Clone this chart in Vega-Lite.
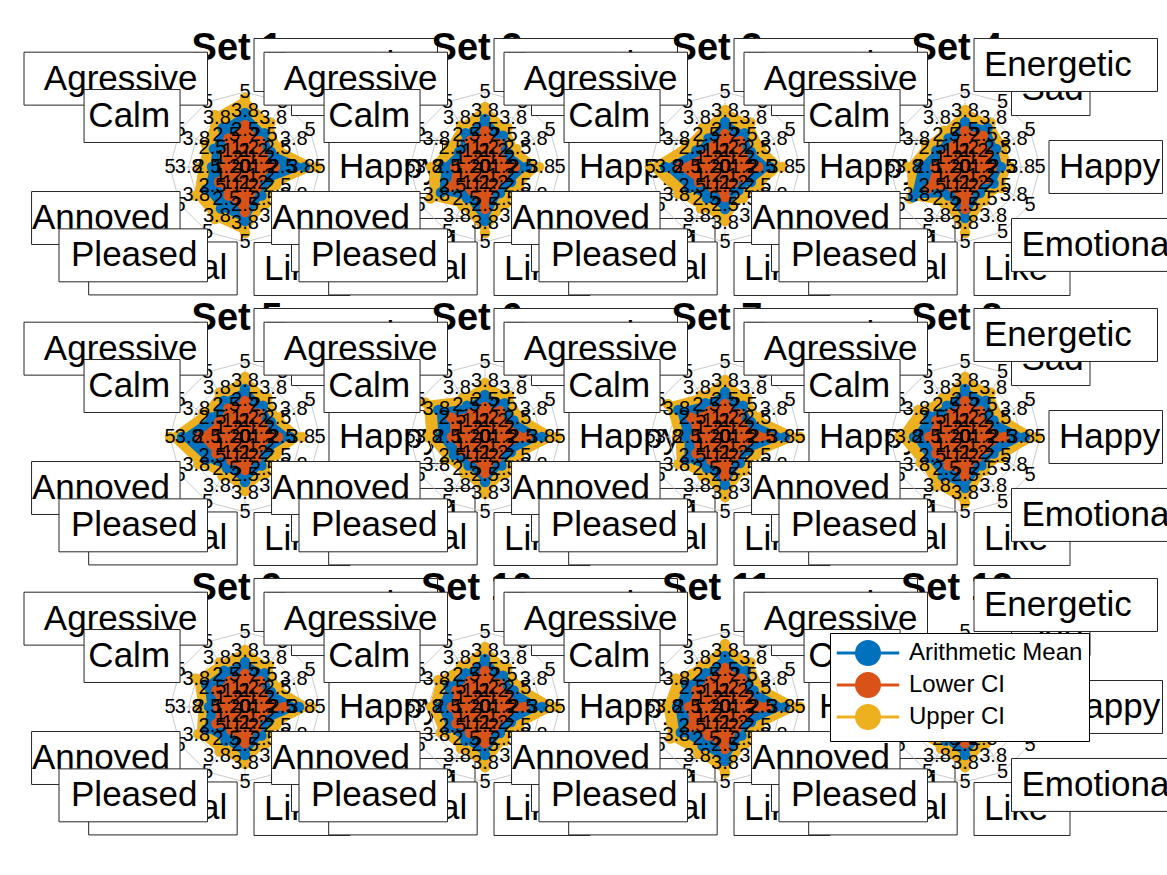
{
  "$schema": "https://vega.github.io/schema/vega-lite/v6.json",
  "autosize": {"type": "none"},
  "bounds": "flush",
  "padding": {"left": 125, "top": 32, "right": 1042, "bottom": 843},
  "background": "white",
  "config": {"view": {"stroke": null}, "font": "Liberation Sans",
    "header": {"labels": false, "title": null, "labelPadding": 0, "titlePadding": 0, "labelExpr": "''", "labelFontSize": 1},
    "headerFacet": {"labels": false, "title": null, "labelPadding": 0, "titlePadding": 0, "labelExpr": "''", "labelFontSize": 1}},
  "data": {"values": [
    {"t":"title","p":[1,2,3,4,5,6,7,8,9,10,11,12],"k":[0],"v":[]},
    {"t":"grid","lv":0.25,"p":[1,2,3,4,5,6,7,8,9,10,11,12],"k":[0,1,2,3,4,5,6,7,8,9,10,11,12],"v":[]},
    {"t":"grid","lv":0.5,"p":[1,2,3,4,5,6,7,8,9,10,11,12],"k":[0,1,2,3,4,5,6,7,8,9,10,11,12],"v":[]},
    {"t":"grid","lv":0.75,"p":[1,2,3,4,5,6,7,8,9,10,11,12],"k":[0,1,2,3,4,5,6,7,8,9,10,11,12],"v":[]},
    {"t":"grid","lv":1,"p":[1,2,3,4,5,6,7,8,9,10,11,12],"k":[0,1,2,3,4,5,6,7,8,9,10,11,12],"v":[]},
    {"t":"spoke","p":[1,2,3,4,5,6,7,8,9,10,11,12],"k":[0,1,2,3,4,5,6,7,8,9,10,11],"v":[]},
    {"t":"tick","lv":0,"name":"0","p":[1,2,3,4,5,6,7,8,9,10,11,12],"k":[0,1,2,3,4,5,6,7,8,9,10,11],"v":[]},
    {"t":"tick","lv":0.25,"name":"1.2","p":[1,2,3,4,5,6,7,8,9,10,11,12],"k":[0,1,2,3,4,5,6,7,8,9,10,11],"v":[]},
    {"t":"tick","lv":0.5,"name":"2.5","p":[1,2,3,4,5,6,7,8,9,10,11,12],"k":[0,1,2,3,4,5,6,7,8,9,10,11],"v":[]},
    {"t":"tick","lv":0.75,"name":"3.8","p":[1,2,3,4,5,6,7,8,9,10,11,12],"k":[0,1,2,3,4,5,6,7,8,9,10,11],"v":[]},
    {"t":"tick","lv":1,"name":"5","p":[1,2,3,4,5,6,7,8,9,10,11,12],"k":[0,1,2,3,4,5,6,7,8,9,10,11],"v":[]},
    {"t":"lab","name":"Energetic","p":[1,2,3,4,5,6,7,8,9,10,11,12],"k":[0],"v":[]},
    {"t":"lab","name":"Sad","p":[1,2,3,4,5,6,7,8,9,10,11,12],"k":[1],"v":[]},
    {"t":"lab","name":"Happy","p":[1,2,3,4,5,6,7,8,9,10,11,12],"k":[3],"v":[]},
    {"t":"lab","name":"Emotional","p":[1,2,3,4,5,6,7,8,9,10,11,12],"k":[5],"v":[]},
    {"t":"lab","name":"Like","p":[1,2,3,4,5,6,7,8,9,10,11,12],"k":[6],"v":[]},
    {"t":"lab","name":"Neutral","p":[1,2,3,4,5,6,7,8,9,10,11,12],"k":[6.2],"v":[]},
    {"t":"lab","name":"Pleased","p":[1,2,3,4,5,6,7,8,9,10,11,12],"k":[7],"v":[]},
    {"t":"lab","name":"Annoyed","p":[1,2,3,4,5,6,7,8,9,10,11,12],"k":[8],"v":[]},
    {"t":"lab","name":"Calm","p":[1,2,3,4,5,6,7,8,9,10,11,12],"k":[10],"v":[]},
    {"t":"lab","name":"Agressive","p":[1,2,3,4,5,6,7,8,9,10,11,12],"k":[11],"v":[]},

    {"t":"val","s":"Upper CI","p":[1],"k":[0,1,2,3,4,5,6,7,8,9,10,11,12],"v":[4.6,3.4,2.6,4.8,2.4,2.8,4.4,4.0,3.8,3.0,3.0,4.0,4.6]},
    {"t":"val","s":"Arithmetic Mean","p":[1],"k":[0,1,2,3,4,5,6,7,8,9,10,11,12],"v":[3.6,2.6,2.0,4.0,1.8,2.2,3.6,3.2,3.0,2.2,2.4,3.0,3.6]},
    {"t":"val","s":"Lower CI","p":[1],"k":[0,1,2,3,4,5,6,7,8,9,10,11,12],"v":[2.8,2.0,1.4,2.0,1.2,1.6,3.0,2.2,2.0,1.4,1.6,2.2,2.8]},

    {"t":"val","s":"Upper CI","p":[2],"k":[0,1,2,3,4,5,6,7,8,9,10,11,12],"v":[4.0,3.0,2.4,3.6,2.6,2.8,4.4,3.0,4.2,3.6,2.8,3.2,4.0]},
    {"t":"val","s":"Arithmetic Mean","p":[2],"k":[0,1,2,3,4,5,6,7,8,9,10,11,12],"v":[3.2,2.4,1.8,2.8,2.0,2.0,3.6,2.4,3.4,2.8,2.0,2.6,3.2]},
    {"t":"val","s":"Lower CI","p":[2],"k":[0,1,2,3,4,5,6,7,8,9,10,11,12],"v":[2.4,1.8,1.2,2.0,1.4,1.4,2.8,1.8,2.6,2.0,1.4,2.0,2.4]},

    {"t":"val","s":"Upper CI","p":[3],"k":[0,1,2,3,4,5,6,7,8,9,10,11,12],"v":[3.8,3.4,2.8,3.8,2.6,2.4,3.6,3.2,3.6,5.0,3.0,3.0,3.8]},
    {"t":"val","s":"Arithmetic Mean","p":[3],"k":[0,1,2,3,4,5,6,7,8,9,10,11,12],"v":[3.0,2.6,2.0,3.0,2.0,1.8,2.8,2.4,2.8,4.0,2.2,2.2,3.0]},
    {"t":"val","s":"Lower CI","p":[3],"k":[0,1,2,3,4,5,6,7,8,9,10,11,12],"v":[2.2,2.0,1.4,2.2,1.4,1.2,2.0,1.6,2.0,3.0,1.6,1.6,2.2]},

    {"t":"val","s":"Upper CI","p":[4],"k":[0,1,2,3,4,5,6,7,8,9,10,11,12],"v":[3.8,3.4,3.0,3.0,2.8,2.6,4.4,2.8,4.2,3.8,3.0,2.8,3.8]},
    {"t":"val","s":"Arithmetic Mean","p":[4],"k":[0,1,2,3,4,5,6,7,8,9,10,11,12],"v":[3.0,3.0,2.4,2.4,2.2,2.0,3.4,2.2,4.0,3.0,2.2,2.2,3.0]},
    {"t":"val","s":"Lower CI","p":[4],"k":[0,1,2,3,4,5,6,7,8,9,10,11,12],"v":[2.4,2.4,1.8,1.8,1.6,1.4,2.8,1.6,2.8,2.0,1.6,1.6,2.4]},

    {"t":"val","s":"Upper CI","p":[5],"k":[0,1,2,3,4,5,6,7,8,9,10,11,12],"v":[4.0,3.0,2.6,3.8,2.4,2.8,3.6,3.0,3.6,5.0,3.2,3.4,4.0]},
    {"t":"val","s":"Arithmetic Mean","p":[5],"k":[0,1,2,3,4,5,6,7,8,9,10,11,12],"v":[3.2,2.4,2.0,3.0,1.8,2.2,3.0,2.4,3.0,4.2,2.6,2.8,3.2]},
    {"t":"val","s":"Lower CI","p":[5],"k":[0,1,2,3,4,5,6,7,8,9,10,11,12],"v":[2.4,1.8,1.4,2.2,1.2,1.6,2.2,1.8,2.2,3.0,2.0,2.2,2.4]},

    {"t":"val","s":"Upper CI","p":[6],"k":[0,1,2,3,4,5,6,7,8,9,10,11,12],"v":[3.6,3.2,2.8,4.8,2.6,2.8,3.8,2.8,3.0,3.8,4.6,3.0,3.6]},
    {"t":"val","s":"Arithmetic Mean","p":[6],"k":[0,1,2,3,4,5,6,7,8,9,10,11,12],"v":[2.8,2.6,2.2,3.8,2.0,2.2,3.0,2.2,2.4,3.0,3.6,2.4,2.8]},
    {"t":"val","s":"Lower CI","p":[6],"k":[0,1,2,3,4,5,6,7,8,9,10,11,12],"v":[2.0,2.0,1.6,2.8,1.4,1.6,2.4,1.6,1.8,2.2,2.6,1.8,2.0]},

    {"t":"val","s":"Upper CI","p":[7],"k":[0,1,2,3,4,5,6,7,8,9,10,11,12],"v":[3.8,3.0,2.6,5.0,2.4,2.6,4.0,3.0,3.6,3.2,4.4,3.2,3.8]},
    {"t":"val","s":"Arithmetic Mean","p":[7],"k":[0,1,2,3,4,5,6,7,8,9,10,11,12],"v":[3.0,2.4,2.0,4.0,1.8,2.0,3.2,2.4,3.0,2.6,3.6,2.6,3.0]},
    {"t":"val","s":"Lower CI","p":[7],"k":[0,1,2,3,4,5,6,7,8,9,10,11,12],"v":[2.2,1.8,1.4,3.0,1.2,1.4,2.6,1.8,2.2,2.0,2.6,2.0,2.2]},

    {"t":"val","s":"Upper CI","p":[8],"k":[0,1,2,3,4,5,6,7,8,9,10,11,12],"v":[4.0,3.4,2.8,4.8,2.8,2.6,4.4,3.8,3.4,4.4,3.6,3.0,4.0]},
    {"t":"val","s":"Arithmetic Mean","p":[8],"k":[0,1,2,3,4,5,6,7,8,9,10,11,12],"v":[3.2,2.8,2.2,4.0,2.2,2.2,3.4,3.0,2.8,3.4,2.8,2.4,3.2]},
    {"t":"val","s":"Lower CI","p":[8],"k":[0,1,2,3,4,5,6,7,8,9,10,11,12],"v":[2.4,2.0,1.6,2.6,1.6,1.6,2.6,2.2,2.2,2.4,2.2,1.8,2.4]},

    {"t":"val","s":"Upper CI","p":[9],"k":[0,1,2,3,4,5,6,7,8,9,10,11,12],"v":[3.8,3.2,2.6,4.4,2.4,2.8,3.8,3.4,3.6,3.0,3.8,3.4,3.8]},
    {"t":"val","s":"Arithmetic Mean","p":[9],"k":[0,1,2,3,4,5,6,7,8,9,10,11,12],"v":[3.0,2.6,2.0,3.6,1.8,2.2,3.2,2.6,3.0,2.4,3.0,2.8,3.0]},
    {"t":"val","s":"Lower CI","p":[9],"k":[0,1,2,3,4,5,6,7,8,9,10,11,12],"v":[2.2,2.0,1.4,2.6,1.2,1.6,2.4,1.8,2.2,1.8,2.2,2.0,2.2]},

    {"t":"val","s":"Upper CI","p":[10],"k":[0,1,2,3,4,5,6,7,8,9,10,11,12],"v":[4.0,3.0,2.8,4.8,2.6,2.6,4.0,3.2,3.4,3.6,3.6,3.2,4.0]},
    {"t":"val","s":"Arithmetic Mean","p":[10],"k":[0,1,2,3,4,5,6,7,8,9,10,11,12],"v":[3.2,2.4,2.2,3.8,2.0,2.0,3.2,2.6,2.8,3.0,2.8,2.6,3.2]},
    {"t":"val","s":"Lower CI","p":[10],"k":[0,1,2,3,4,5,6,7,8,9,10,11,12],"v":[2.4,1.8,1.6,2.6,1.4,1.4,2.4,2.0,2.2,2.2,2.2,2.0,2.4]},

    {"t":"val","s":"Upper CI","p":[11],"k":[0,1,2,3,4,5,6,7,8,9,10,11,12],"v":[4.2,3.4,2.8,5.0,2.6,2.8,4.4,3.6,4.2,4.0,3.8,3.2,4.2]},
    {"t":"val","s":"Arithmetic Mean","p":[11],"k":[0,1,2,3,4,5,6,7,8,9,10,11,12],"v":[3.4,2.8,2.2,4.0,2.0,2.2,3.6,3.0,3.4,3.2,3.0,2.6,3.4]},
    {"t":"val","s":"Lower CI","p":[11],"k":[0,1,2,3,4,5,6,7,8,9,10,11,12],"v":[2.6,2.2,1.6,2.8,1.4,1.6,2.8,2.2,2.6,2.4,2.2,2.0,2.6]},

    {"t":"val","s":"Upper CI","p":[12],"k":[0,1,2,3,4,5,6,7,8,9,10,11,12],"v":[3.8,3.2,2.8,4.2,3.0,2.8,4.0,3.2,3.6,3.4,3.2,3.0,3.8]},
    {"t":"val","s":"Arithmetic Mean","p":[12],"k":[0,1,2,3,4,5,6,7,8,9,10,11,12],"v":[3.0,2.6,2.2,3.4,2.4,2.2,3.2,2.6,3.0,2.8,2.6,2.4,3.0]},
    {"t":"val","s":"Lower CI","p":[12],"k":[0,1,2,3,4,5,6,7,8,9,10,11,12],"v":[2.2,2.0,1.6,2.6,1.8,1.6,2.4,2.0,2.2,2.0,2.0,1.8,2.2]}
  ]},
  "transform": [
    {"flatten": ["p"]},
    {"flatten": ["k", "v"]},
    {"calculate": "(90 - 30*datum.k)*PI/180", "as": "ang"},
    {"calculate": "cos(datum.ang) >= 0 ? 1 : -1", "as": "side"},
    {"calculate": "datum.t==='val' ? datum.v/5 : datum.t==='spoke' ? 1 : datum.t==='title' ? 1.43 : datum.lv", "as": "r"},
    {"calculate": "datum.t==='lab' ? 1.0*cos(datum.ang) + (datum.side > 0 ? 0.12 : 0) : datum.r*cos(datum.ang)", "as": "x"},
    {"calculate": "datum.t==='lab' ? (datum.side > 0 && abs(cos(datum.ang)) > 0.1 ? 1.2 : 1.36)*sin(datum.ang) : datum.r*sin(datum.ang)", "as": "y"},
    {"calculate": "datum.x + datum.side*(17.5*length(datum.name || '') + 26)/75", "as": "x2"},
    {"calculate": "datum.y - 0.353", "as": "y1"},
    {"calculate": "datum.y + 0.353", "as": "y2"},
    {"calculate": "'Set ' + datum.p", "as": "ttl"}
  ],
  "columns": 4,
  "spacing": 0,
  "facet": {"field": "p", "type": "ordinal", "header": {"title": null, "labels": false, "labelPadding": 0, "titlePadding": 0, "labelExpr": "''"}},
  "spec": {
    "width": 240,
    "height": 270,
    "encoding": {
      "x": {"field": "x", "type": "quantitative", "scale": {"domain": [-1.6, 1.6], "nice": false, "zero": false}, "axis": null},
      "y": {"field": "y", "type": "quantitative", "scale": {"domain": [-1.8, 1.8], "nice": false, "zero": false}, "axis": null}
    },
    "layer": [
      {"transform": [{"filter": "datum.t==='title'"}],
       "mark": {"type": "text", "fontSize": 38, "fontWeight": "bold", "align": "center", "baseline": "alphabetic", "color": "black", "dx": -8},
       "encoding": {"text": {"field": "ttl"}}},
      {"transform": [{"filter": "datum.t==='grid'"}],
       "mark": {"type": "line", "stroke": "#bdbdbd", "strokeWidth": 0.8},
       "encoding": {"order": {"field": "k", "type": "quantitative"}, "detail": {"field": "lv"}}},
      {"transform": [{"filter": "datum.t==='spoke'"}],
       "mark": {"type": "rule", "stroke": "#bdbdbd", "strokeWidth": 0.8},
       "encoding": {"x2": {"datum": 0}, "y2": {"datum": 0}}},
      {"transform": [{"filter": "datum.t==='val' && datum.s==='Upper CI'"}],
       "mark": {"type": "line", "fill": "#EDB120", "stroke": "#EDB120", "strokeWidth": 3},
       "encoding": {"order": {"field": "k", "type": "quantitative"}}},
      {"transform": [{"filter": "datum.t==='val' && datum.s==='Arithmetic Mean'"}],
       "mark": {"type": "line", "fill": "#0072BD", "stroke": "#0072BD", "strokeWidth": 3},
       "encoding": {"order": {"field": "k", "type": "quantitative"}}},
      {"transform": [{"filter": "datum.t==='val' && datum.s==='Lower CI'"}],
       "mark": {"type": "line", "fill": "#D95319", "stroke": "#D95319", "strokeWidth": 3},
       "encoding": {"order": {"field": "k", "type": "quantitative"}}},
      {"transform": [{"filter": "datum.t==='val' && datum.k < 12"}],
       "mark": {"type": "point", "filled": true, "size": 110, "opacity": 1},
       "encoding": {
         "color": {"field": "s", "type": "nominal",
           "scale": {"domain": ["Arithmetic Mean", "Lower CI", "Upper CI"], "range": ["#0072BD", "#D95319", "#EDB120"]},
           "legend": {
             "title": null, "orient": "none", "legendX": 705, "legendY": 601,
             "fillColor": "white", "strokeColor": "black", "padding": 6,
             "labelFontSize": 24, "labelFont": "Liberation Sans", "labelColor": "black", "labelLimit": 0,
             "symbolType": "M-2.5,0L2.5,0M0.92,0A0.92,0.92,0,1,1,-0.92,0A0.92,0.92,0,1,1,0.92,0Z",
             "symbolSize": 625, "symbolStrokeWidth": 3, "symbolOffset": 18, "labelOffset": 27, "rowPadding": -7,
             "symbolOpacity": 1,
             "encode": {"symbols": {"update": {"stroke": {"field": "value", "scale": "color"}, "strokeWidth": {"value": 3}}}}
           }}}},
      {"transform": [{"filter": "datum.t==='tick'"}],
       "mark": {"type": "text", "fontSize": 20, "align": "center", "baseline": "middle", "color": "black"},
       "encoding": {"text": {"field": "name"}}},
      {"transform": [{"filter": "datum.t==='lab' && indexof(['Sad','Agressive','Neutral','Like','Happy'], datum.name) >= 0"}],
       "mark": {"type": "rect", "fill": "white", "stroke": "#262626", "strokeWidth": 1},
       "encoding": {"x": {"field": "x"}, "x2": {"field": "x2"}, "y": {"field": "y1"}, "y2": {"field": "y2"}}},
      {"transform": [{"filter": "datum.t==='lab' && indexof(['Sad','Agressive','Neutral','Like','Happy'], datum.name) >= 0"}],
       "mark": {"type": "text", "fontSize": 35, "baseline": "middle", "color": "black", "align": {"expr": "datum.side > 0 ? 'left' : 'right'"}, "dx": {"expr": "datum.side*10"}},
       "encoding": {"text": {"field": "name"}}},
      {"transform": [{"filter": "datum.t==='lab' && indexof(['Energetic','Calm','Annoyed','Emotional'], datum.name) >= 0"}],
       "mark": {"type": "rect", "fill": "white", "stroke": "#262626", "strokeWidth": 1},
       "encoding": {"x": {"field": "x"}, "x2": {"field": "x2"}, "y": {"field": "y1"}, "y2": {"field": "y2"}}},
      {"transform": [{"filter": "datum.t==='lab' && indexof(['Energetic','Calm','Annoyed','Emotional'], datum.name) >= 0"}],
       "mark": {"type": "text", "fontSize": 35, "baseline": "middle", "color": "black", "align": {"expr": "datum.side > 0 ? 'left' : 'right'"}, "dx": {"expr": "datum.side*10"}},
       "encoding": {"text": {"field": "name"}}},
      {"transform": [{"filter": "datum.t==='lab' && datum.name==='Pleased'"}],
       "mark": {"type": "rect", "fill": "white", "stroke": "#262626", "strokeWidth": 1},
       "encoding": {"x": {"field": "x"}, "x2": {"field": "x2"}, "y": {"field": "y1"}, "y2": {"field": "y2"}}},
      {"transform": [{"filter": "datum.t==='lab' && datum.name==='Pleased'"}],
       "mark": {"type": "text", "fontSize": 35, "baseline": "middle", "color": "black", "align": {"expr": "datum.side > 0 ? 'left' : 'right'"}, "dx": {"expr": "datum.side*10"}},
       "encoding": {"text": {"field": "name"}}}
    ]
  }
}
